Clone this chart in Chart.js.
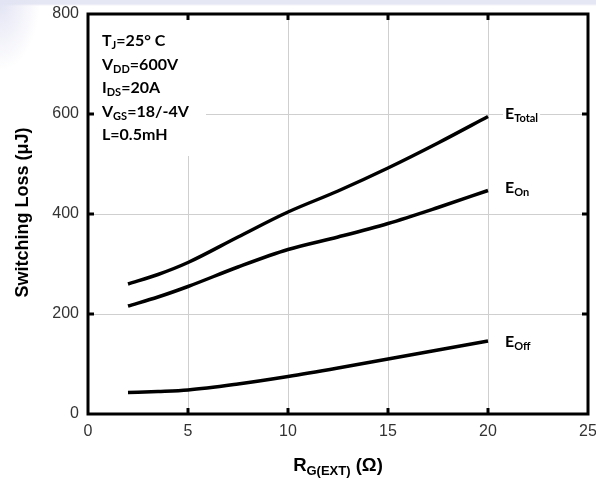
<!DOCTYPE html>
<html>
<head>
<meta charset="utf-8">
<script src="https://cdn.jsdelivr.net/npm/chart.js@4.4.0/dist/chart.umd.min.js"></script>
<style>
  html, body {
    margin: 0;
    padding: 0;
  }
  body {
    width: 596px;
    height: 483px;
    background:
      radial-gradient(ellipse 40px 70px at 0 0, #e2e3f3 0%, rgba(255, 255, 255, 0) 100%),
      linear-gradient(to bottom, #e6e7f4 0px, #e6e7f4 4px, #ffffff 6px);
  }
  #wrap {
    position: relative;
    width: 596px;
    height: 483px;
  }
</style>
</head>
<body>
<div id="wrap"><canvas id="lossChart" width="596" height="483"></canvas></div>
<script>
// switching energy vs external gate resistance
const rgValues = [2, 3.5, 5, 7.5, 10, 12.5, 15, 17.5, 20];
const eTotal = [260, 279, 303, 354, 404, 446, 492, 542, 595];
const eOn = [216, 234, 255, 294, 329, 354, 381, 413, 447];
const eOff = [43, 45, 48, 60, 75, 92, 110, 128, 146];

const seriesNames = ["Total", "On", "Off"];

// test conditions, each line as [text, isSubscript] runs
const conditionLines = [
  [["T", false], ["J", true], ["=25° C", false]],
  [["V", false], ["DD", true], ["=600V", false]],
  [["I", false], ["DS", true], ["=20A", false]],
  [["V", false], ["GS", true], ["=18/-4V", false]],
  [["L=0.5mH", false]],
];

const yTitle = "Switching Loss (μJ)";
const xTitleParts = [["R", false], ["G(EXT)", true], [" (Ω)", false]];

function toPoints(values) {
  return values.map((v, i) => ({ x: rgValues[i], y: v }));
}

function drawRuns(ctx, runs, x, y, mainFont, subFont, subDrop) {
  let cx = x;
  runs.forEach((run) => {
    ctx.font = run[1] ? subFont : mainFont;
    ctx.fillText(run[0], cx, run[1] ? y + subDrop : y);
    cx += ctx.measureText(run[0]).width;
  });
  return cx - x;
}

function runsWidth(ctx, runs, mainFont, subFont) {
  let w = 0;
  runs.forEach((run) => {
    ctx.font = run[1] ? subFont : mainFont;
    w += ctx.measureText(run[0]).width;
  });
  return w;
}

const chartDecor = {
  id: "chartDecor",
  beforeDatasetsDraw(chart) {
    const { ctx, chartArea: a } = chart;
    ctx.save();
    // keep grid lines out of the conditions block
    ctx.fillStyle = "#ffffff";
    ctx.fillRect(a.left, a.top, 118, 142);
    ctx.restore();
  },
  afterDatasetsDraw(chart) {
    const { ctx, chartArea: a, scales } = chart;
    const x = scales.x;
    const y = scales.y;
    ctx.save();
    ctx.fillStyle = "#000";
    ctx.textBaseline = "alphabetic";

    const mainFont = "bold 16px Lato, 'Open Sans', sans-serif";
    const subFont = "bold 11px Lato, 'Open Sans', sans-serif";
    conditionLines.forEach((line, i) => {
      drawRuns(ctx, line, a.left + 14, a.top + 32 + i * 23.5, mainFont, subFont, 3);
    });

    // end-of-curve labels
    const ends = [eTotal, eOn, eOff];
    ends.forEach((values, i) => {
      const px = x.getPixelForValue(rgValues[rgValues.length - 1]) + 17;
      const py = y.getPixelForValue(values[values.length - 1]) + (i < 2 ? 2 : 6);
      const runs = [["E", false], [seriesNames[i], true]];
      const w = runsWidth(ctx, runs, mainFont, subFont);
      ctx.fillStyle = "#ffffff";
      ctx.fillRect(px - 2, py - 15, w + 4, 20);
      ctx.fillStyle = "#000";
      drawRuns(ctx, runs, px, py, mainFont, subFont, 3);
    });
    ctx.restore();
  },
  afterDraw(chart) {
    const { ctx, chartArea: a, scales } = chart;
    const x = scales.x;
    const y = scales.y;
    ctx.save();
    ctx.strokeStyle = "#000";
    ctx.lineWidth = 3;
    ctx.strokeRect(a.left, a.top, a.right - a.left, a.bottom - a.top);

    // inward tick marks
    ctx.lineWidth = 3;
    ctx.beginPath();
    x.ticks.forEach((t) => {
      if (t.value <= x.min || t.value >= x.max) return;
      const px = Math.round(x.getPixelForValue(t.value));
      ctx.moveTo(px, a.bottom);
      ctx.lineTo(px, a.bottom - 6);
      ctx.moveTo(px, a.top);
      ctx.lineTo(px, a.top + 6);
    });
    y.ticks.forEach((t) => {
      if (t.value <= y.min || t.value >= y.max) return;
      const py = Math.round(y.getPixelForValue(t.value));
      ctx.moveTo(a.left, py);
      ctx.lineTo(a.left + 6, py);
      ctx.moveTo(a.right, py);
      ctx.lineTo(a.right - 6, py);
    });
    ctx.stroke();

    // axis titles
    ctx.fillStyle = "#000";
    ctx.textBaseline = "alphabetic";
    const titleFont = "bold 18.5px 'Liberation Sans', Arial, sans-serif";
    const titleSub = "bold 13px 'Liberation Sans', Arial, sans-serif";
    const w = runsWidth(ctx, xTitleParts, titleFont, titleSub);
    const cx = (a.left + a.right) / 2;
    drawRuns(ctx, xTitleParts, cx - w / 2, 471, titleFont, titleSub, 4);

    ctx.translate(28, 212.5);
    ctx.rotate(-Math.PI / 2);
    ctx.font = "bold 18px 'Liberation Sans', Arial, sans-serif";
    ctx.textAlign = "center";
    ctx.fillText(yTitle, 0, 0);
    ctx.restore();
  },
};

function createLossChart() {
  const ctx = document.getElementById("lossChart").getContext("2d");
  const lineStyle = {
    borderColor: "#000",
    borderWidth: 3.5,
    pointRadius: 0,
    fill: false,
    cubicInterpolationMode: "monotone",
  };
  const tickFont = { family: "'Liberation Sans', Arial, sans-serif", size: 16 };

  return new Chart(ctx, {
    type: "line",
    data: {
      datasets: [
        { label: "E_Total", data: toPoints(eTotal), ...lineStyle },
        { label: "E_On", data: toPoints(eOn), ...lineStyle },
        { label: "E_Off", data: toPoints(eOff), ...lineStyle },
      ],
    },
    options: {
      responsive: false,
      animation: false,
      layout: { padding: { top: 14, right: 8, bottom: 0, left: 0 } },
      plugins: {
        legend: { display: false },
        tooltip: { enabled: false },
      },
      scales: {
        x: {
          type: "linear",
          min: 0,
          max: 25,
          ticks: { stepSize: 5, color: "#333", font: tickFont, padding: 8 },
          grid: { color: "#cfcfcf", lineWidth: 1, drawTicks: false },
          border: { display: false },
          afterFit(scale) {
            scale.height = 69;
            scale.paddingLeft = 0;
            scale.paddingRight = 0;
          },
        },
        y: {
          min: 0,
          max: 800,
          ticks: { stepSize: 200, color: "#333", font: tickFont, padding: 9 },
          grid: { color: "#cfcfcf", lineWidth: 1, drawTicks: false },
          border: { display: false },
          afterFit(scale) {
            scale.width = 88;
            scale.paddingTop = 0;
            scale.paddingBottom = 0;
          },
        },
      },
    },
    plugins: [chartDecor],
  });
}

createLossChart();
</script>
</body>
</html>
